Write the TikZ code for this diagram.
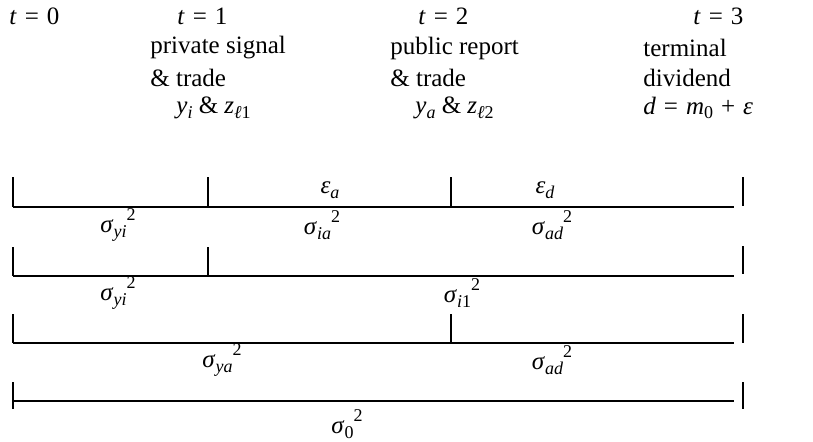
\documentclass[tikz,border=0pt]{standalone}
\usepackage{fontspec}
\setmainfont{Liberation Serif}
\usepackage{tikz}
\usetikzlibrary{positioning}
\newcommand{\gap}{\hspace{0.32em}}
\newcommand{\tvar}[1]{\textit{t}\gap=\gap#1}
\newcommand{\lo}[1]{\raisebox{-0.4ex}{\fontsize{9}{9}\selectfont #1}}
\newcommand{\hi}[1]{\raisebox{1.05ex}{\fontsize{9}{9}\selectfont #1}}
\newcommand{\vsig}[2]{\textit{σ}\lo{#1}\hi{#2}}
\tikzset{
  bar/.style   = {line width=1.3pt, line cap=butt},
  tick/.style  = {line width=0.55pt},
  lbl/.style   = {inner sep=0pt, font=\fontsize{12.5}{15}\selectfont},
  head/.style  = {lbl, anchor=west},
}

\begin{document}
\begin{tikzpicture}[x=0.5pt, y=-0.5pt]
  \useasboundingbox (0,0) rectangle (813,442);
  % dates and events
  \node[head] (t0) at (9,16) {\tvar{0}};
  \node[head] (t1) at (177,16) {\tvar{1}};
  \node[head] (ps) at (150,48) {private signal};
  \node[head] (tr1) at (150,78) {\& trade};
  \node[head] (yz1) at (176,108) {\textit{y}\lo{\textit{i}} \& \textit{z}\lo{\textit{ℓ}1}};
  \node[head] (t2) at (418,16) {\tvar{2}};
  \node[head] (pr) at (390,48) {public report};
  \node[head] (tr2) at (390,78) {\& trade};
  \node[head] (yz2) at (415,108) {\textit{y}\lo{\textit{a}} \& \textit{z}\lo{\textit{ℓ}2}};
  \node[head] (t3) at (693,16) {\tvar{3}};
  \node[head] (term) at (643,48) {terminal};
  \node[head] (div) at (643,78) {dividend};
  \node[head] (dd) at (643,108) {\textit{d}\gap=\gap\textit{m}\lo{0}\gap+\gap\textit{ε}};
  % time lines
  \foreach \r/\y in {1/207, 2/276, 3/343, 4/401} {
    \coordinate (s\r) at (13,\y);
    \coordinate (e\r) at (734,\y);
    \coordinate (r\r) at (743,\y);
    \draw[bar] (s\r) -- (e\r);
  }
  \coordinate (m1a) at (208,207); \coordinate (m1b) at (451,207);
  \coordinate (m2) at (208,276);
  \coordinate (m3) at (451,343);
  \draw[tick] (s1) -- ++(0,-30); \draw[tick] (m1a) -- ++(0,-30);
  \draw[tick] (m1b) -- ++(0,-30); \draw[tick] ([yshift=0.5pt]r1) -- ++(0,-29);
  \draw[tick] (s2) -- ++(0,-29); \draw[tick] (m2) -- ++(0,-29);
  \draw[tick] ([yshift=1pt]r2) -- ++(0,-28);
  \draw[tick] (s3) -- ++(0,-29); \draw[tick] (m3) -- ++(0,-29);
  \draw[tick] (r3) -- ++(0,-29);
  \draw[tick] ([yshift=-4pt]s4) -- ++(0,-27);
  \draw[tick] ([yshift=-4pt]r4) -- ++(0,-27);
  % noise terms and variances
  \node[lbl] (ea) at (330,190) {\textit{ε}\lo{\textit{a}}};
  \node[lbl] (ed) at (545,190) {\textit{ε}\lo{\textit{d}}};
  \node[lbl] (v1a) at (118,225) {\vsig{\textit{yi}}{2}};
  \node[lbl] (v1b) at (322,225) {\vsig{\textit{ia}}{2}};
  \node[lbl] (v1c) at (552,225) {\vsig{\textit{ad}}{2}};
  \node[lbl] (v2a) at (118,293) {\vsig{\textit{yi}}{2}};
  \node[lbl] (v2b) at (462,293) {\vsig{\textit{i}1}{2}};
  \node[lbl] (v3a) at (222,360) {\vsig{\textit{ya}}{2}};
  \node[lbl] (v3b) at (552,360) {\vsig{\textit{ad}}{2}};
  \node[lbl] (v4) at (347,424) {\vsig{0}{2}};
\end{tikzpicture}
\end{document}
